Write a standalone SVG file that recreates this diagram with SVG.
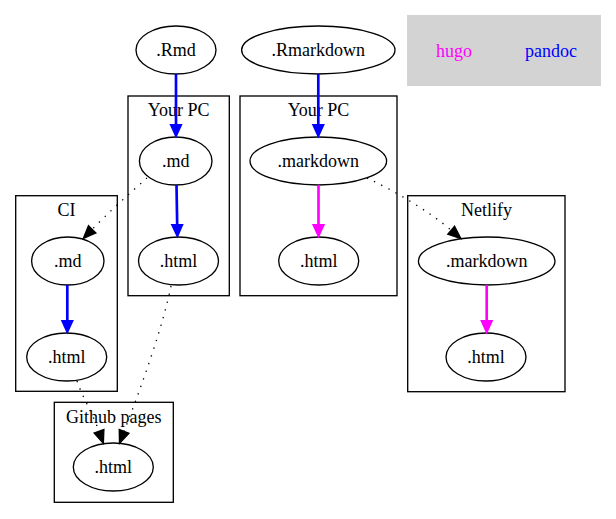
<svg xmlns="http://www.w3.org/2000/svg" width="616" height="519" viewBox="0 0 616 519">
<style>
text{font-family:"Liberation Serif","Times New Roman",serif;font-size:18px;text-anchor:middle;fill:#000}
.node ellipse{fill:none;stroke:#000;stroke-width:1.33}
.cluster rect{fill:none;stroke:#000;stroke-width:1.33}
.e{fill:none}
.blue{stroke:#0000ff;stroke-width:2.67}
.mag{stroke:#ff00ff;stroke-width:2.67}
.dot{stroke:#000;stroke-width:1.33;stroke-dasharray:1.33 6.67}
</style>
<defs>
<marker id="ab" markerUnits="userSpaceOnUse" markerWidth="16" markerHeight="14" refX="0" refY="7" orient="auto" overflow="visible"><path d="M0,2 L11,7 L0,12 z" fill="#0000ff" stroke="#0000ff" stroke-width="2"/></marker>
<marker id="am" markerUnits="userSpaceOnUse" markerWidth="16" markerHeight="14" refX="0" refY="7" orient="auto" overflow="visible"><path d="M0,2 L11,7 L0,12 z" fill="#ff00ff" stroke="#ff00ff" stroke-width="2"/></marker>
<marker id="ak" markerUnits="userSpaceOnUse" markerWidth="16" markerHeight="14" refX="0" refY="7" orient="auto" overflow="visible"><path d="M0,1.8 L12.8,7 L0,12.2 z" fill="#000" stroke="#000" stroke-width="1.33"/></marker>
</defs>
<g id="legend">
<rect x="407" y="15" width="194" height="71" fill="#d3d3d3"/>
<text x="454" y="57" style="fill:#ff00ff">hugo</text>
<text x="551" y="57" style="fill:#0000ff">pandoc</text>
</g>
<g id="cluster_pc1" class="cluster"><rect x="128" y="96" width="101.3" height="199.7"/><text x="178.7" y="116">Your PC</text></g>
<g id="cluster_pc2" class="cluster"><rect x="240" y="96" width="157" height="199.7"/><text x="318.5" y="116">Your PC</text></g>
<g id="cluster_ci" class="cluster"><rect x="15.7" y="195.7" width="101.6" height="195.6"/><text x="66.5" y="215.7">CI</text></g>
<g id="cluster_netlify" class="cluster"><rect x="407.7" y="195.7" width="157.3" height="196"/><text x="486.5" y="215.7">Netlify</text></g>
<g id="cluster_github" class="cluster"><rect x="54.3" y="402.3" width="119" height="100"/><text x="113.8" y="422.7">Github pages</text></g>
<g id="n_rmd" class="node"><ellipse cx="176" cy="50" rx="40" ry="24"/><text x="176" y="56">.Rmd</text></g>
<g id="n_rmarkdown" class="node"><ellipse cx="318.3" cy="50" rx="76.7" ry="24"/><text x="318.3" y="56">.Rmarkdown</text></g>
<g id="n_pc_md" class="node"><ellipse cx="175.7" cy="161" rx="36.3" ry="24"/><text x="175.7" y="167">.md</text></g>
<g id="n_pc_html" class="node"><ellipse cx="178.5" cy="261" rx="40" ry="24"/><text x="178.5" y="267">.html</text></g>
<g id="n_pc_markdown" class="node"><ellipse cx="318.3" cy="161" rx="68.3" ry="24"/><text x="318.3" y="167">.markdown</text></g>
<g id="n_pc_html2" class="node"><ellipse cx="318.7" cy="261" rx="40" ry="24"/><text x="318.7" y="267">.html</text></g>
<g id="n_ci_md" class="node"><ellipse cx="67.8" cy="261" rx="36.2" ry="24"/><text x="67.8" y="267">.md</text></g>
<g id="n_ci_html" class="node"><ellipse cx="66.7" cy="357" rx="40" ry="24"/><text x="66.7" y="363">.html</text></g>
<g id="n_net_markdown" class="node"><ellipse cx="486.7" cy="261" rx="68.3" ry="24"/><text x="486.7" y="267">.markdown</text></g>
<g id="n_net_html" class="node"><ellipse cx="486" cy="357" rx="40" ry="24"/><text x="486" y="363">.html</text></g>
<g id="n_gh_html" class="node"><ellipse cx="113.3" cy="467" rx="40" ry="24"/><text x="113.3" y="473">.html</text></g>
<g id="edges">
<path class="e blue" d="M176,74 V125" marker-end="url(#ab)"/>
<path class="e blue" d="M176.5,185 L177.2,225" marker-end="url(#ab)"/>
<path class="e blue" d="M318.3,74 V125" marker-end="url(#ab)"/>
<path class="e mag" d="M318.5,185 V225" marker-end="url(#am)"/>
<path class="e mag" d="M486.7,285 V321" marker-end="url(#am)"/>
<path class="e blue" d="M67.3,285 V321" marker-end="url(#ab)"/>
<path class="e dot" d="M147,178 C130,193 108,213 92.2,229.3" marker-end="url(#ak)"/>
<path class="e dot" d="M367,178 C395,191 430,212 451.2,230.2" marker-end="url(#ak)"/>
<path class="e dot" d="M171,286 C162,330 140,390 124.1,431.4" marker-end="url(#ak)"/>
<path class="e dot" d="M77,381 C82,396 92,412 99,431.3" marker-end="url(#ak)"/>
</g>
</svg>
